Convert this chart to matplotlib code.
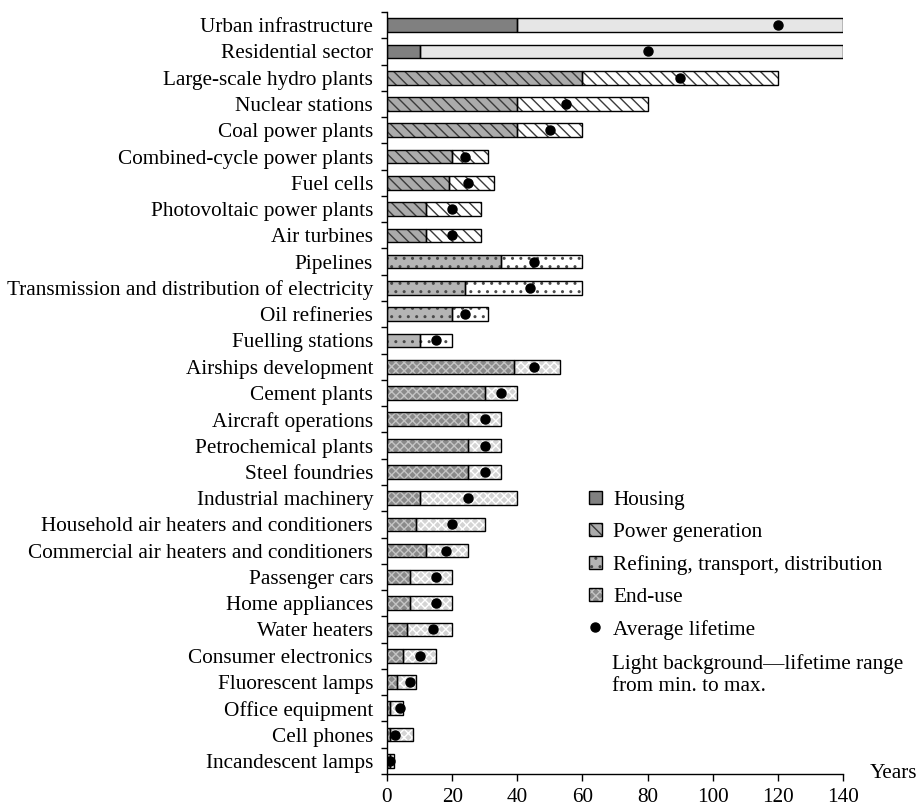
import matplotlib
matplotlib.use('Agg')
import matplotlib.pyplot as plt
import numpy as np
from matplotlib.patches import Patch
from matplotlib.lines import Line2D

plt.rcParams['font.family'] = ['Liberation Serif', 'DejaVu Serif']
plt.rcParams['hatch.linewidth'] = 1.0

# ---- data (top to bottom) ----
labels = ['Urban infrastructure', 'Residential sector', 'Large-scale hydro plants',
          'Nuclear stations', 'Coal power plants', 'Combined-cycle power plants',
          'Fuel cells', 'Photovoltaic power plants', 'Air turbines', 'Pipelines',
          'Transmission and distribution of electricity', 'Oil refineries',
          'Fuelling stations', 'Airships development', 'Cement plants',
          'Aircraft operations', 'Petrochemical plants', 'Steel foundries',
          'Industrial machinery', 'Household air heaters and conditioners',
          'Commercial air heaters and conditioners', 'Passenger cars',
          'Home appliances', 'Water heaters', 'Consumer electronics',
          'Fluorescent lamps', 'Office equipment', 'Cell phones', 'Incandescent lamps']
sector = ['housing'] * 2 + ['power'] * 7 + ['refining'] * 4 + ['enduse'] * 16
min_life = [40, 10, 60, 40, 40, 20, 19, 12, 12, 35, 24, 20, 10,
            39, 30, 25, 25, 25, 10, 9, 12, 7, 7, 6, 5, 3, 1, 1, 1]
max_life = [140, 140, 120, 80, 60, 31, 33, 29, 29, 60, 60, 31, 20,
            53, 40, 35, 35, 35, 40, 30, 25, 20, 20, 20, 15, 9, 5, 8, 2]
avg_life = [120, 80, 90, 55, 50, 24, 25, 20, 20, 45, 44, 24, 15,
            45, 35, 30, 30, 30, 25, 20, 18, 15, 15, 14, 10, 7, 4, 2.5, 1]

# fill / hatch styles: (dark face, dark hatch colour, light face, light hatch colour, hatch)
styles = {
    'housing':  ('#808080', None, '#e6e6e6', None, None),
    'power':    ('#ababab', '#3a3a3a', '#ffffff', '#3a3a3a', '\\\\\\'),
    'refining': ('#b5b5b5', '#4a4a4a', '#ffffff', '#4a4a4a', '..'),
    'enduse':   ('#8a8a8a', '#c4c4c4', '#d4d4d4', '#ffffff', 'xxxx'),
}
FS = 15.3

fig = plt.figure(figsize=(9.19, 8.07), dpi=100)
ax = fig.add_axes([387 / 919, 1 - 774 / 807, (843 - 387) / 919, (774 - 12) / 807])

y = np.arange(len(labels))
bh = 0.52


def seg(yy, left, width, face, hcol, hatch):
    ax.barh(yy, width, left=left, height=bh, color=face, edgecolor='none', zorder=2)
    if hatch:
        ax.barh(yy, width, left=left, height=bh, color='none', edgecolor=hcol,
                linewidth=0, hatch=hatch, zorder=3)
    ax.barh(yy, width, left=left, height=bh, color='none', edgecolor='black',
            linewidth=1.0, zorder=4)


for i in range(len(labels)):
    dface, dh, lface, lh, hatch = styles[sector[i]]
    seg(y[i], 0, min_life[i], dface, dh, hatch)
    seg(y[i], min_life[i], max_life[i] - min_life[i], lface, lh, hatch)

ax.plot(avg_life, y, 'o', color='black', markersize=6.5, zorder=5)

ax.set_xlim(0, 140)
ax.set_ylim(len(labels) - 0.5, -0.5)
ax.set_xticks(np.arange(0, 141, 20))
ax.set_yticks(y)
ax.set_yticklabels(labels)
ax.set_yticks(np.arange(-0.5, len(labels)), minor=True)
ax.tick_params(axis='y', which='major', length=0, pad=10, labelsize=FS)
ax.tick_params(axis='y', which='minor', length=4, width=1, direction='out')
ax.tick_params(axis='x', length=5, width=1, direction='out', labelsize=FS, pad=5)
for s in ['top', 'right']:
    ax.spines[s].set_visible(False)
for s in ['left', 'bottom']:
    ax.spines[s].set_linewidth(1.0)

fig.text(870 / 919, 1 - 774 / 807, 'Years', ha='left', va='center', fontsize=FS)

# ---- legend ----
handles = []
for key in ['housing', 'power', 'refining', 'enduse']:
    dface, dh, lface, lh, hatch = styles[key]
    base = Patch(facecolor=dface, edgecolor='none')
    frame = Patch(facecolor='none', edgecolor='black', linewidth=1.0)
    if hatch:
        over = Patch(facecolor='none', edgecolor=dh, linewidth=0, hatch=hatch)
        handles.append((base, over, frame))
    else:
        handles.append((base, frame))
handles.append(Line2D([], [], marker='o', color='black', linestyle='none', markersize=6.5))
names = ['Housing', 'Power generation', 'Refining, transport, distribution',
         'End-use', 'Average lifetime']
fig.legend(handles, names, loc='upper left', bbox_to_anchor=(589 / 919, 1 - 491 / 807),
           frameon=False, fontsize=FS, handlelength=0.6, handleheight=0.6,
           handletextpad=0.55, labelspacing=0.6, borderpad=0, borderaxespad=0)

fig.text(612 / 919, 1 - 675 / 807, 'Light background\u2014lifetime range\nfrom min. to max.',
         ha='left', va='center', fontsize=FS, linespacing=1.2)

fig.savefig('out.png', dpi=100)
